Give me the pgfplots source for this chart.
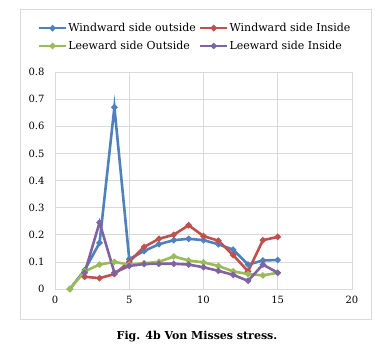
\documentclass[border=0pt]{standalone}
\usepackage{pgfplots}
\pgfplotsset{compat=1.18}
\usepackage{fontspec}
\setmainfont{DejaVu Serif}
\definecolor{cblue}{HTML}{4F81BD}
\definecolor{cred}{HTML}{C0504D}
\definecolor{cgreen}{HTML}{9BBB59}
\definecolor{cpurple}{HTML}{8064A2}
\definecolor{gridc}{HTML}{D9D9D9}
\begin{document}
\begin{tikzpicture}[x=1pt,y=1pt]
\useasboundingbox (0,0) rectangle (383,352);
\draw[gridc,line width=0.8pt] (20,33) rectangle (371,343);
\begin{axis}[
  at={(55pt,63pt)}, anchor=south west,
  scale only axis, width=297pt, height=217pt,
  xmin=0, xmax=20, ymin=0, ymax=0.8,
  xtick={0,5,10,15,20}, ytick={0,0.1,...,0.8},
  yticklabel style={/pgf/number format/fixed,/pgf/number format/precision=1, xshift=-7pt},
  xticklabel style={yshift=-4pt},
  /pgf/number format/assume math mode=true,
  ticklabel style={font=\fontsize{10}{12}\selectfont},
  grid=major, grid style={gridc,line width=0.6pt},
  axis line style={gridc,line width=0.6pt},
  tick style={draw=none},
  legend columns=2,
  legend cell align=left,
  legend style={draw=none, fill=none, at={(0.47,1.161)}, anchor=center,
    font=\fontsize{11}{13}\selectfont, /tikz/every even column/.append style={column sep=2pt},
    row sep=6pt, inner sep=0pt, nodes={inner sep=1pt}},
  legend image code/.code={
    \draw[#1,line width=2.6pt] (0pt,0pt) -- (27pt,0pt);
    \draw[#1,mark repeat=1] plot coordinates {(13.5pt,0pt)};
  },
  every axis plot/.append style={line width=2.6pt, mark=*, mark size=1.6pt},
]
\addplot[cblue, mark options={fill=cblue}] coordinates {(1,0) (2,0.07) (3,0.17) (4,0.67) (5,0.11) (6,0.14) (7,0.165) (8,0.18) (9,0.185) (10,0.18) (11,0.165) (12,0.145) (13,0.09) (14,0.105) (15,0.107)};
\addlegendentry{Windward side outside}
\addplot[cred, mark options={fill=cred}] coordinates {(2,0.045) (3,0.04) (4,0.055) (5,0.1) (6,0.155) (7,0.185) (8,0.2) (9,0.235) (10,0.195) (11,0.178) (12,0.125) (13,0.065) (14,0.18) (15,0.192)};
\addlegendentry{Windward side Inside}
\addplot[cgreen, mark options={fill=cgreen}] coordinates {(1,0) (2,0.065) (3,0.09) (4,0.1) (5,0.09) (6,0.095) (7,0.1) (8,0.12) (9,0.105) (10,0.098) (11,0.085) (12,0.065) (13,0.055) (14,0.05) (15,0.06)};
\addlegendentry{Leeward side Outside}
\addplot[cpurple, mark options={fill=cpurple}] coordinates {(2,0.06) (3,0.245) (4,0.06) (5,0.085) (6,0.092) (7,0.093) (8,0.093) (9,0.09) (10,0.08) (11,0.067) (12,0.052) (13,0.03) (14,0.09) (15,0.06)};
\addlegendentry{Leeward side Inside}
\end{axis}
\node[font=\bfseries\fontsize{11}{13}\selectfont] at (197,15) {Fig. 4b Von Misses stress.};
\end{tikzpicture}
\end{document}
